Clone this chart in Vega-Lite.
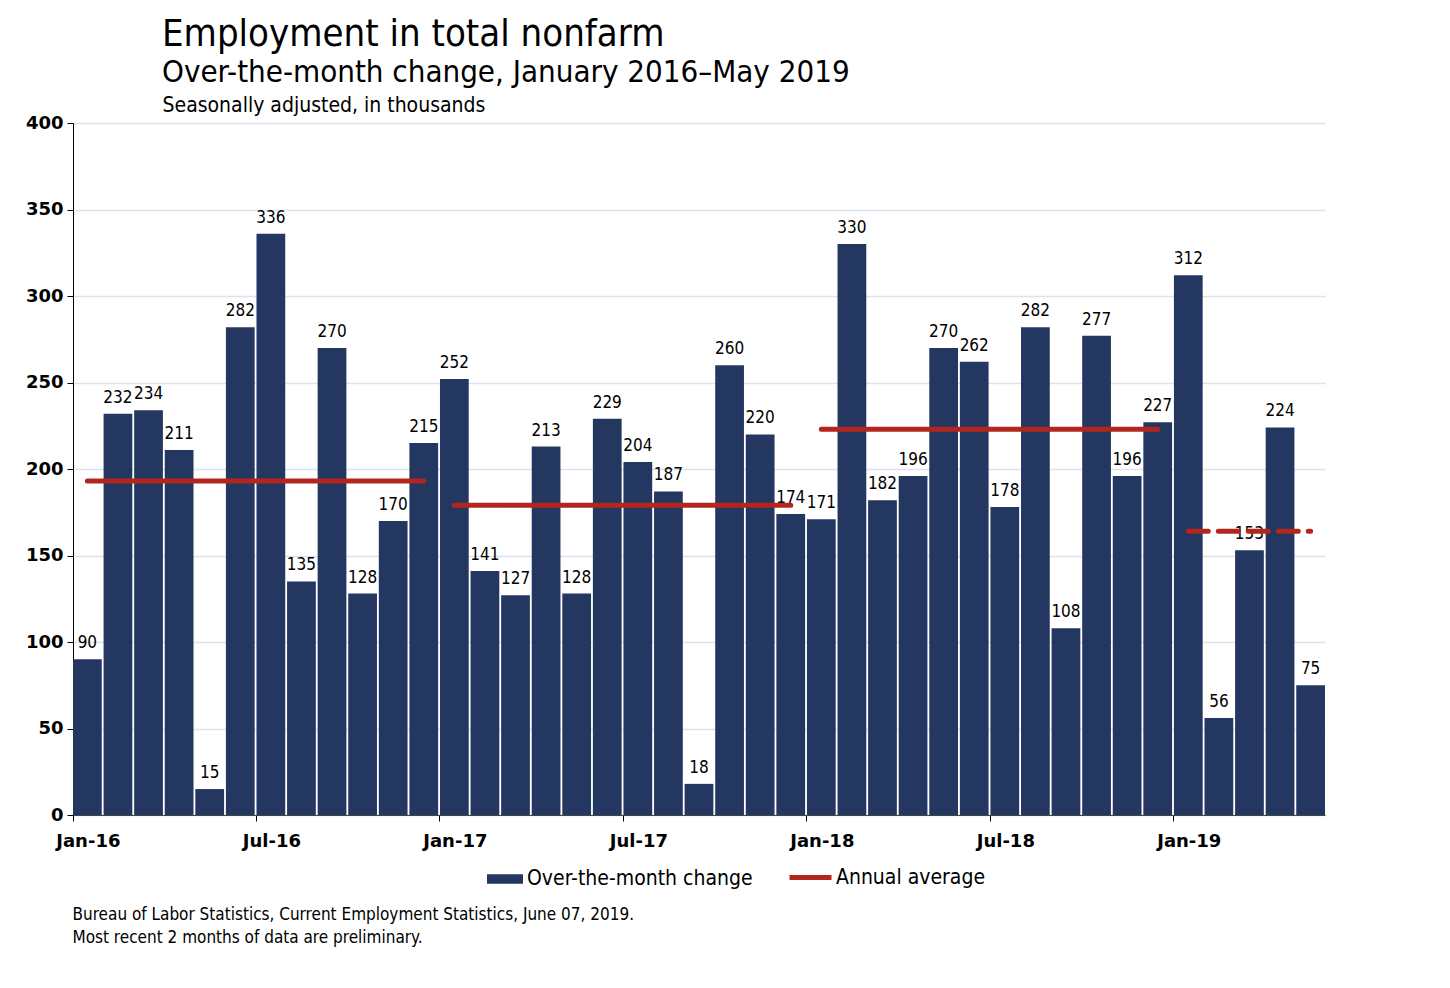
{
  "$schema": "https://vega.github.io/schema/vega-lite/v6.json",
  "width": 1252,
  "height": 692,
  "autosize": "none",
  "padding": {"left": 73, "top": 123, "right": 125, "bottom": 173},
  "background": "white",
  "title": {
    "text": "Employment in total nonfarm",
    "subtitle": "Over-the-month change, January 2016\u2013May 2019",
    "anchor": "start",
    "frame": "group",
    "dx": 89,
    "fontSize": 38,
    "fontWeight": "normal",
    "font": "DejaVu Sans Condensed",
    "color": "#000000",
    "subtitleFont": "DejaVu Sans Condensed",
    "subtitleFontSize": 31,
    "subtitleColor": "#000000",
    "subtitlePadding": 4,
    "offset": 6
  },
  "datasets": {
    "jobs": [
      {"month": "Jan-16", "change": 90}, {"month": "Feb-16", "change": 232}, {"month": "Mar-16", "change": 234},
      {"month": "Apr-16", "change": 211}, {"month": "May-16", "change": 15}, {"month": "Jun-16", "change": 282},
      {"month": "Jul-16", "change": 336}, {"month": "Aug-16", "change": 135}, {"month": "Sep-16", "change": 270},
      {"month": "Oct-16", "change": 128}, {"month": "Nov-16", "change": 170}, {"month": "Dec-16", "change": 215},
      {"month": "Jan-17", "change": 252}, {"month": "Feb-17", "change": 141}, {"month": "Mar-17", "change": 127},
      {"month": "Apr-17", "change": 213}, {"month": "May-17", "change": 128}, {"month": "Jun-17", "change": 229},
      {"month": "Jul-17", "change": 204}, {"month": "Aug-17", "change": 187}, {"month": "Sep-17", "change": 18},
      {"month": "Oct-17", "change": 260}, {"month": "Nov-17", "change": 220}, {"month": "Dec-17", "change": 174},
      {"month": "Jan-18", "change": 171}, {"month": "Feb-18", "change": 330}, {"month": "Mar-18", "change": 182},
      {"month": "Apr-18", "change": 196}, {"month": "May-18", "change": 270}, {"month": "Jun-18", "change": 262},
      {"month": "Jul-18", "change": 178}, {"month": "Aug-18", "change": 282}, {"month": "Sep-18", "change": 108},
      {"month": "Oct-18", "change": 277}, {"month": "Nov-18", "change": 196}, {"month": "Dec-18", "change": 227},
      {"month": "Jan-19", "change": 312}, {"month": "Feb-19", "change": 56}, {"month": "Mar-19", "change": 153},
      {"month": "Apr-19", "change": 224}, {"month": "May-19", "change": 75}
    ],
    "averages": [
      {"month": "Jan-16", "end": "Dec-16", "avg": 193, "prelim": false},
      {"month": "Jan-17", "end": "Dec-17", "avg": 179, "prelim": false},
      {"month": "Jan-18", "end": "Dec-18", "avg": 223, "prelim": false},
      {"month": "Jan-19", "end": "May-19", "avg": 164, "prelim": true}
    ]
  },
  "layer": [
    {
      "data": {"name": "jobs"},
      "mark": {"type": "bar", "color": "#243761"},
      "encoding": {
        "x": {
          "field": "month",
          "type": "ordinal",
          "sort": null,
          "scale": {"paddingInner": 0.06, "paddingOuter": 0},
          "axis": {
            "values": ["Jan-16", "Jul-16", "Jan-17", "Jul-17", "Jan-18", "Jul-18", "Jan-19"],
            "bandPosition": 0,
            "labelOffset": 1,
            "labelAngle": 0,
            "labelFont": "DejaVu Sans",
            "labelFontWeight": "bold",
            "labelFontSize": 18,
            "labelColor": "#000000",
            "labelPadding": 11,
            "tickColor": "#000000",
            "tickSize": 6,
            "domainColor": "#444444",
            "title": ["Bureau of Labor Statistics, Current Employment Statistics, June 07, 2019.", "Most recent 2 months of data are preliminary."],
            "titleFont": "DejaVu Sans Condensed",
            "titleFontWeight": "normal",
            "titleFontSize": 17,
            "titleColor": "#000000",
            "titleAlign": "left",
            "titleAnchor": "start",
            "titleBaseline": "alphabetic",
            "titleLineHeight": 23,
            "titleX": -1,
            "titleY": 104
          }
        },
        "y": {
          "field": "change",
          "type": "quantitative",
          "scale": {"domain": [0, 400]},
          "axis": {
            "values": [0, 50, 100, 150, 200, 250, 300, 350, 400],
            "labelFont": "DejaVu Sans",
            "labelFontWeight": "bold",
            "labelFontSize": 18,
            "labelColor": "#000000",
            "labelPadding": 4,
            "tickColor": "#000000",
            "tickSize": 6,
            "domainColor": "#000000",
            "gridColor": "#DDE1F0",
            "gridWidth": 1.5,
            "title": "Seasonally adjusted, in thousands",
            "titleAngle": 0,
            "titleFont": "DejaVu Sans Condensed",
            "titleFontWeight": "normal",
            "titleFontSize": 21,
            "titleColor": "#000000",
            "titleAlign": "left",
            "titleBaseline": "alphabetic",
            "titleX": 89,
            "titleY": -12
          }
        },
        "fill": {
          "datum": "Over-the-month change",
          "type": "nominal",
          "scale": {"range": ["#243761"]},
          "legend": {
            "orient": "none",
            "legendX": 414,
            "legendY": 738,
            "title": null,
            "padding": 0,
            "symbolType": "M-1,-0.27L1,-0.27L1,0.27L-1,0.27Z",
            "symbolSize": 1296,
            "symbolStrokeWidth": 0,
            "symbolOpacity": 1,
            "labelFont": "DejaVu Sans Condensed",
            "labelFontSize": 21,
            "labelColor": "#000000",
            "labelOffset": 4,
            "labelLimit": 400
          }
        }
      }
    },
    {
      "data": {"name": "jobs"},
      "mark": {"type": "text", "baseline": "alphabetic", "dy": -11, "font": "DejaVu Sans Condensed", "fontSize": 17, "color": "#000000"},
      "encoding": {
        "x": {"field": "month", "type": "ordinal", "sort": null},
        "y": {"field": "change", "type": "quantitative"},
        "text": {"field": "change", "type": "quantitative"}
      }
    },
    {
      "data": {"name": "averages"},
      "transform": [{"filter": "!datum.prelim"}],
      "mark": {"type": "rule", "strokeWidth": 5, "strokeCap": "round"},
      "encoding": {
        "x": {"field": "month", "type": "ordinal", "sort": null},
        "x2": {"field": "end"},
        "y": {"field": "avg", "type": "quantitative"},
        "stroke": {
          "datum": "Annual average",
          "type": "nominal",
          "scale": {"range": ["#B3261E"]},
          "legend": {
            "orient": "none",
            "legendX": 714,
            "legendY": 731,
            "title": null,
            "padding": 0,
            "symbolType": "stroke",
            "symbolSize": 1764,
            "symbolStrokeWidth": 5,
            "labelFont": "DejaVu Sans Condensed",
            "labelFontSize": 21,
            "labelColor": "#000000",
            "labelOffset": 2,
            "labelLimit": 400
          }
        }
      }
    },
    {
      "data": {"name": "averages"},
      "transform": [{"filter": "datum.prelim"}],
      "mark": {"type": "rule", "strokeWidth": 5, "strokeCap": "round", "strokeDash": [20, 10], "color": "#B3261E"},
      "encoding": {
        "x": {"field": "month", "type": "ordinal", "sort": null},
        "x2": {"field": "end"},
        "y": {"field": "avg", "type": "quantitative"}
      }
    }
  ],
  "config": {
    "view": {"stroke": null},
    "axisX": {"grid": false}
  }
}
